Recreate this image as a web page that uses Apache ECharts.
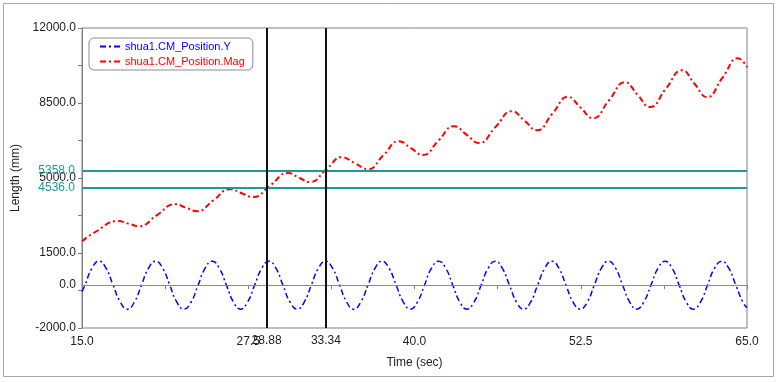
<!DOCTYPE html>
<html>
<head>
<meta charset="utf-8">
<script src="https://cdn.jsdelivr.net/npm/echarts@6/dist/echarts.min.js"></script>
<style>
  html, body { margin: 0; padding: 0; background: #fff; }
  #chart { width: 780px; height: 382px; }
</style>
</head>
<body>
<div id="chart"></div>
<script>
// shua1.CM_Position.Y  (time in sec, length in mm)
const posYTimes = [15, 15.22, 15.75, 16.28, 16.81, 17.34, 17.88, 18.41, 18.94, 19.47, 20.00,
  20.54, 21.07, 21.60, 22.13, 22.66, 23.20, 23.73, 24.26, 24.79, 25.32, 25.86, 26.39, 26.92,
  27.45, 27.98, 28.52, 29.05, 29.58, 30.11, 30.64, 31.18, 31.71, 32.24, 32.77, 33.30, 33.84,
  34.37, 34.90, 35.43, 35.96, 36.50, 37.03, 37.56, 38.09, 38.62, 39.16, 39.69, 40.22, 40.75,
  41.28, 41.82, 42.35, 42.88, 43.41, 43.94, 44.48, 45.01, 45.54, 46.07, 46.60, 47.14, 47.67,
  48.20, 48.73, 49.26, 49.80, 50.33, 50.86, 51.39, 51.92, 52.46, 52.99, 53.52, 54.05, 54.58,
  55.12, 55.65, 56.18, 56.71, 57.24, 57.78, 58.31, 58.84, 59.37, 59.90, 60.44, 60.97, 61.50,
  62.03, 62.56, 63.10, 63.63, 64.16, 64.69, 65];
const posYValues = [-300,
  0, 790, 1120, 790, 0, -790, -1120, -790,
  0, 790, 1120, 790, 0, -790, -1120, -790,
  0, 790, 1120, 790, 0, -790, -1120, -790,
  0, 790, 1120, 790, 0, -790, -1120, -790,
  0, 790, 1120, 790, 0, -790, -1120, -790,
  0, 790, 1120, 790, 0, -790, -1120, -790,
  0, 790, 1120, 790, 0, -790, -1120, -790,
  0, 790, 1120, 790, 0, -790, -1120, -790,
  0, 790, 1120, 790, 0, -790, -1120, -790,
  0, 790, 1120, 790, 0, -790, -1120, -790,
  0, 790, 1120, 790, 0, -790, -1120, -790,
  0, 790, 1120, 790, 0, -790,
  -1050];

// shua1.CM_Position.Mag
const magTimes = [15, 16, 17.71, 18.5, 19.29, 20.64, 21.99, 22.82, 23.65, 24.89,
  26.13, 27, 27.86, 29.18, 30.49, 31.32, 32.14, 33.35, 34.55, 35.52,
  36.5, 37.67, 38.83, 39.74, 40.64, 41.8, 42.97, 43.91, 44.85, 46.09,
  47.33, 48.27, 49.21, 50.38, 51.54, 52.48, 53.42, 54.63, 55.83, 56.77,
  57.71, 58.91, 60.11, 61.05, 61.99, 63.16, 64.32, 65];
const magValues = [2050, 2480, 2990, 2870, 2750, 3270, 3780, 3615, 3450, 3965,
  4480, 4290, 4110, 4670, 5230, 5015, 4810, 5390, 5970, 5690,
  5410, 6065, 6720, 6395, 6070, 6745, 7420, 7025, 6630, 7375,
  8120, 7675, 7230, 8010, 8790, 8290, 7790, 8630, 9470, 8890,
  8310, 9170, 10030, 9400, 8770, 9680, 10590, 10170];

// axis ticks and labels
const xTickValues = [15, 21.25, 27.5, 33.75, 40, 46.25, 52.5, 58.75, 65];
const xLabelValues = [15, 27.5, 40, 52.5, 65];
const yTickValues = [-2000, -250, 1500, 3250, 5000, 6750, 8500, 10250, 12000];
const yLabelValues = [-2000, 0, 1500, 5000, 8500, 12000];

// cursors
const cursorTimes = [28.88, 33.34];
const cursorLevels = [5358, 4536];

const fontFamily = '"Liberation Sans", Arial, sans-serif';
const teal = '#1e9a96';

const chart = echarts.init(document.getElementById('chart'));

const fmt1 = v => Number(v).toFixed(1);

const markData = [
  { yAxis: 0, lineStyle: { color: '#8c8c8c', width: 1, type: 'solid' }, label: { show: false } },
  ...cursorLevels.map(v => ({
    yAxis: v,
    lineStyle: { color: teal, width: 2, type: 'solid' },
    label: { show: true, position: 'start', distance: 7, color: teal, formatter: fmt1(v) }
  })),
  ...cursorTimes.map(t => ({
    xAxis: t,
    lineStyle: { color: '#111', width: 2, type: 'solid' },
    label: { show: true, position: 'start', distance: 7, color: '#222', formatter: t.toFixed(2) }
  }))
];

const option = {
  animation: false,
  textStyle: { fontFamily: fontFamily, fontSize: 12 },
  graphic: [{
    type: 'rect',
    shape: { x: 3.5, y: 3.5, width: 770, height: 373 },
    style: { fill: 'none', stroke: '#a6a6a6', lineWidth: 1 },
    silent: true
  }],
  grid: {
    left: 82, right: 33, top: 28, bottom: 54,
    show: true, borderColor: '#808080', borderWidth: 1
  },
  legend: {
    orient: 'vertical',
    left: 89, top: 38,
    padding: [3, 8, 3, 10],
    itemGap: 4,
    itemWidth: 20, itemHeight: 10,
    borderColor: '#8c8c8c', borderWidth: 1, borderRadius: 5,
    backgroundColor: '#fff',
    itemStyle: { color: 'transparent', borderWidth: 0 },
    textStyle: { fontFamily: fontFamily, fontSize: 11 },
    data: [
      { name: 'shua1.CM_Position.Y', textStyle: { color: '#0000ff' } },
      { name: 'shua1.CM_Position.Mag', textStyle: { color: '#ff0000' } }
    ]
  },
  xAxis: {
    type: 'value',
    min: 15, max: 65,
    name: 'Time (sec)',
    nameLocation: 'middle',
    nameGap: 29,
    nameTextStyle: { color: '#222', fontFamily: fontFamily, fontSize: 12 },
    axisLine: { show: true, lineStyle: { color: '#808080' } },
    axisTick: { show: true, length: 4, lineStyle: { color: '#808080' }, customValues: xTickValues },
    axisLabel: { color: '#222', margin: 8, customValues: xLabelValues, formatter: fmt1 },
    splitLine: { show: false }
  },
  yAxis: {
    type: 'value',
    min: -2000, max: 12000,
    name: 'Length (mm)',
    nameLocation: 'middle',
    nameGap: 54,
    nameTextStyle: { color: '#222', fontFamily: fontFamily, fontSize: 12 },
    axisLine: { show: true, lineStyle: { color: '#808080' } },
    axisTick: { show: true, length: 4, lineStyle: { color: '#808080' }, customValues: yTickValues },
    axisLabel: { color: '#222', margin: 6, customValues: yLabelValues, formatter: fmt1 },
    splitLine: { show: false }
  },
  series: [
    {
      name: 'shua1.CM_Position.Y',
      type: 'line',
      smooth: true,
      showSymbol: false,
      symbol: 'none',
      color: '#0000ff',
      lineStyle: { color: '#0000ff', width: 1.5, type: [6, 3, 2, 3] },
      data: posYTimes.map((t, i) => [t, posYValues[i]]),
      markLine: {
        silent: true,
        symbol: 'none',
        animation: false,
        data: markData
      },
      z: 3
    },
    {
      name: 'shua1.CM_Position.Mag',
      type: 'line',
      smooth: true,
      showSymbol: false,
      symbol: 'none',
      color: '#ff0000',
      lineStyle: { color: '#ff0000', width: 2, type: [6, 3, 2, 3] },
      data: magTimes.map((t, i) => [t, magValues[i]]),
      z: 2
    }
  ]
};

chart.setOption(option);
</script>
</body>
</html>
